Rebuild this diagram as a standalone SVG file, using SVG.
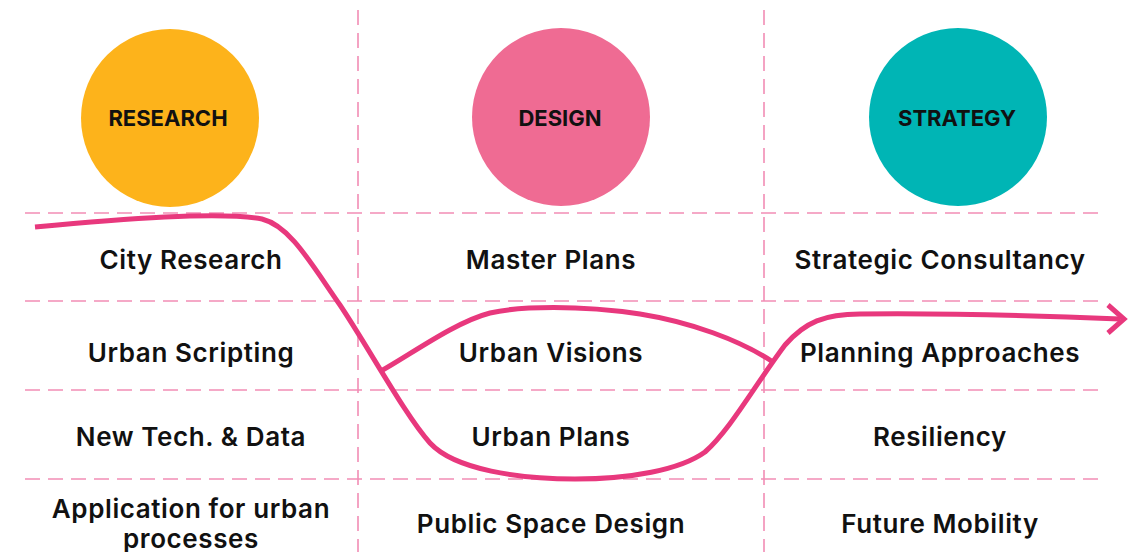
<svg xmlns="http://www.w3.org/2000/svg" width="1140" height="552" viewBox="0 0 1140 552">
<style>
.grid{stroke:#f28db5;stroke-width:1.6;stroke-dasharray:15 8;fill:none}
.lbl{font-family:Inter,"Noto Sans",sans-serif;font-weight:700;font-size:22px;fill:#111;text-anchor:middle}
.t{font-family:Inter,"Noto Sans",sans-serif;font-weight:600;font-size:26px;letter-spacing:0.6px;fill:#111;text-anchor:middle}
.flow{fill:none;stroke:#e8387d;stroke-width:5;stroke-linecap:butt}
</style>
<rect width="1140" height="552" fill="#fff"/>
<g id="grid">
<line class="grid" x1="25" y1="213" x2="1104" y2="213"/>
<line class="grid" x1="25" y1="301" x2="1104" y2="301"/>
<line class="grid" x1="25" y1="390" x2="1104" y2="390"/>
<line class="grid" x1="25" y1="479" x2="1104" y2="479"/>
<line class="grid" x1="358" y1="10" x2="358" y2="552"/>
<line class="grid" x1="764" y1="10" x2="764" y2="552"/>
</g>
<g id="research">
<circle cx="170" cy="118" r="89" fill="#fdb31b"/>
<text class="lbl" x="168" y="126">RESEARCH</text>
</g>
<g id="design">
<circle cx="561" cy="117" r="89" fill="#ef6b93"/>
<text class="lbl" x="560" y="126">DESIGN</text>
</g>
<g id="strategy">
<circle cx="958" cy="117" r="89" fill="#00b5b5"/>
<text class="lbl" x="957" y="126">STRATEGY</text>
</g>
<g id="col-research">
<text class="t" x="191" y="269">City Research</text>
<text class="t" x="191" y="362">Urban Scripting</text>
<text class="t" x="191" y="446">New Tech. &amp; Data</text>
<text class="t" x="191" y="518">Application for urban</text>
<text class="t" x="191" y="548">processes</text>
</g>
<g id="col-design">
<text class="t" x="551" y="269">Master Plans</text>
<text class="t" x="551" y="362">Urban Visions</text>
<text class="t" x="551" y="446">Urban Plans</text>
<text class="t" x="551" y="533">Public Space Design</text>
</g>
<g id="col-strategy">
<text class="t" x="940" y="269">Strategic Consultancy</text>
<text class="t" x="940" y="362">Planning Approaches</text>
<text class="t" x="940" y="446">Resiliency</text>
<text class="t" x="940" y="533">Future Mobility</text>
</g>
<g id="connectors">
<path class="flow" d="M35,227 C120,219 220,211 262,219 C290,226 310,262 340,305 C370,350 405,415 430,443 C455,470 520,479 575,479 C630,479 680,470 705,452 C730,430 755,385 785,345 C805,322 825,314 860,314 C960,313 1050,316 1120,319"/>
<path class="flow" d="M381,371 C410,355 455,322 490,313 C520,306 580,305 640,314 C690,322 740,340 773,362"/>
<polyline class="flow" points="1108,305 1124,319 1108,333"/>
</g>
</svg>
